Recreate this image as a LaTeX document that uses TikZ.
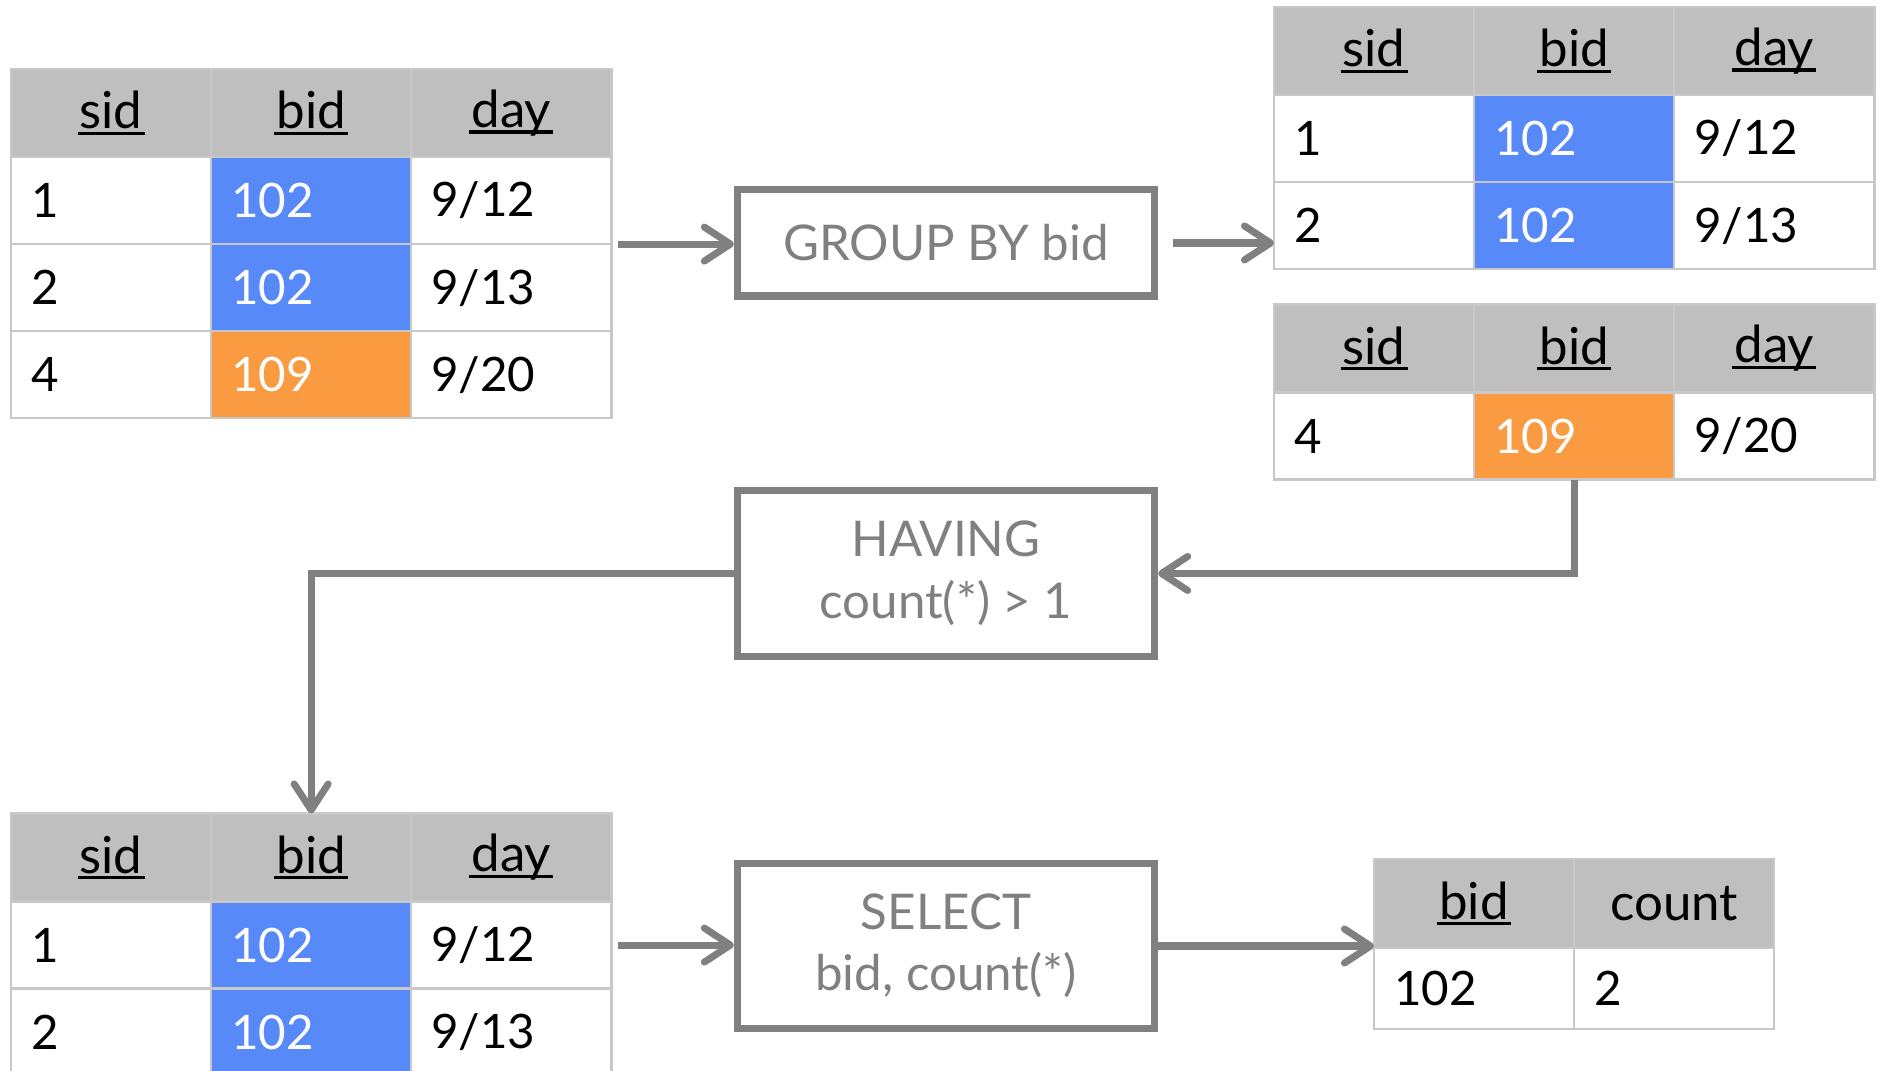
\documentclass[tikz,border=0pt]{standalone}
\usepackage{fontspec}
\setmainfont{Lato}
\usetikzlibrary{positioning,arrows.meta}

\definecolor{hdgray}{RGB}{191,191,191}
\definecolor{cellline}{RGB}{200,200,200}
\definecolor{bidblue}{RGB}{87,137,248}
\definecolor{bidorange}{RGB}{250,155,66}
\definecolor{opgray}{RGB}{128,128,128}

% underline that stays on the baseline (descenders cross it)
\newcommand{\hdrul}[1]{\setbox0=\hbox{#1}\rlap{\kern-0.04em\rule[-0.12em]{\dimexpr\wd0+0.08em\relax}{0.065em}}\box0}

\begin{document}
\begin{tikzpicture}[x=0.01cm,y=-0.01cm,node distance=0pt,
    >={Straight Barb[length=2.6mm,width=3.4mm,round]}]
  \tikzstyle{hd}=[draw=cellline,line width=0.7pt,fill=hdgray,minimum width=2cm,
    minimum height=0.88cm,inner sep=0pt,outer sep=0pt,font=\fontsize{14.5}{17}\selectfont]
  \tikzstyle{cell}=[draw=cellline,line width=0.7pt,fill=white,text width=1.6cm,align=left,
    inner xsep=0.2cm,inner ysep=0pt,minimum height=0.87cm,outer sep=0pt,
    font=\fontsize{13.5}{16}\selectfont]
  \tikzstyle{blu}=[cell,fill=bidblue,text=white]
  \tikzstyle{orng}=[cell,fill=bidorange,text=white]
  \tikzstyle{op}=[draw=opgray,line width=2pt,text=opgray,minimum width=4.17cm,
    align=center,font=\fontsize{14}{17.5}\selectfont]
  \tikzstyle{flow}=[->,draw=opgray,line width=2pt]

  \useasboundingbox (0,0) rectangle (1887,1071);

  % input table
  \node[hd,anchor=north west] (a-sid) at (11,69) {\hdrul{sid}};
  \node[hd,right=of a-sid] (a-bid) {\hdrul{bid}};
  \node[hd,right=of a-bid] (a-day) {\hdrul{day}};
  \node[cell,below=of a-sid] (a-s1) {1};
  \node[blu,below=of a-bid] (a-b1) {102};
  \node[cell,below=of a-day] (a-d1) {9/12};
  \node[cell,below=of a-s1] (a-s2) {2};
  \node[blu,below=of a-b1] (a-b2) {102};
  \node[cell,below=of a-d1] (a-d2) {9/13};
  \node[cell,below=of a-s2] (a-s3) {4};
  \node[orng,below=of a-b2] (a-b3) {109};
  \node[cell,below=of a-d2] (a-d3) {9/20};

  % group 102
  \node[hd,anchor=north west] (b-sid) at (1274,7) {\hdrul{sid}};
  \node[hd,right=of b-sid] (b-bid) {\hdrul{bid}};
  \node[hd,right=of b-bid] (b-day) {\hdrul{day}};
  \node[cell,below=of b-sid] (b-s1) {1};
  \node[blu,below=of b-bid] (b-b1) {102};
  \node[cell,below=of b-day] (b-d1) {9/12};
  \node[cell,below=of b-s1] (b-s2) {2};
  \node[blu,below=of b-b1] (b-b2) {102};
  \node[cell,below=of b-d1] (b-d2) {9/13};

  % group 109
  \node[hd,anchor=north west] (c-sid) at (1274,304.5) {\hdrul{sid}};
  \node[hd,right=of c-sid] (c-bid) {\hdrul{bid}};
  \node[hd,right=of c-bid] (c-day) {\hdrul{day}};
  \node[cell,below=of c-sid] (c-s4) {4};
  \node[orng,below=of c-bid] (c-b4) {109};
  \node[cell,below=of c-day] (c-d4) {9/20};

  % after having
  \node[hd,anchor=north west] (d-sid) at (11,813.5) {\hdrul{sid}};
  \node[hd,right=of d-sid] (d-bid) {\hdrul{bid}};
  \node[hd,right=of d-bid] (d-day) {\hdrul{day}};
  \node[cell,below=of d-sid] (d-s1) {1};
  \node[blu,below=of d-bid] (d-b1) {102};
  \node[cell,below=of d-day] (d-d1) {9/12};
  \node[cell,below=of d-s1] (d-s2) {2};
  \node[blu,below=of d-b1] (d-b2) {102};
  \node[cell,below=of d-d1] (d-d2) {9/13};

  % result
  \node[hd,minimum height=0.89cm,anchor=north west] (e-bid) at (1374,859) {\hdrul{bid}};
  \node[hd,minimum height=0.89cm,right=of e-bid] (e-cnt) {count};
  \node[cell,minimum height=0.81cm,below=of e-bid] (e-b1) {102};
  \node[cell,minimum height=0.81cm,below=of e-cnt] (e-c1) {2};

  % operators
  \node[op,minimum height=1.06cm] (group) at (946,243) {GROUP BY bid};
  \node[op,minimum height=1.65cm] (having) at (946,573.5) {HAVING\\count(*) > 1};
  \node[op,minimum height=1.64cm] (select) at (946,946) {SELECT\\bid, count(*)};

  \draw[flow,shorten <=2pt] (a-d1.south east) -- (a-d1.south east -| group.west);
  \draw[flow,shorten <=0.15cm] (group.east) -- (group.east -| b-s2.west);
  \draw[flow] (c-b4.south) |- (having.east);
  \draw[flow] (having.west) -| (d-bid.north);
  \draw[flow,shorten <=2pt] (d-d1.east) -- (d-d1.east -| select.west);
  \draw[flow] (select.east) -- (select.east -| e-bid.west);

\end{tikzpicture}
\end{document}
